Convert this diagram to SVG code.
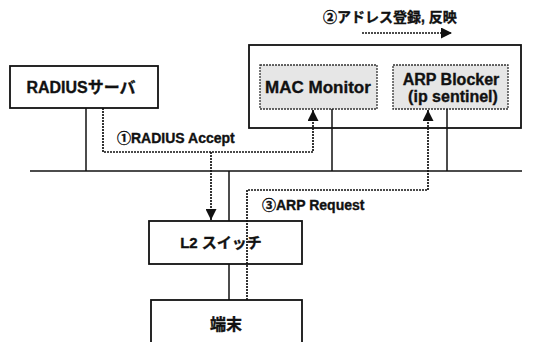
<svg xmlns="http://www.w3.org/2000/svg" width="540" height="342" viewBox="0 0 540 342">
<defs>
<style>
text{font-family:"Liberation Sans","Noto Sans CJK JP",sans-serif;font-weight:bold;fill:#111;stroke:#111;stroke-width:0.35}
.box{fill:#fff;stroke:#111;stroke-width:1.8}
.inner{fill:#e6e6e6;stroke:#333;stroke-width:1.3;stroke-dasharray:2 1}
.solid{fill:none;stroke:#111;stroke-width:1.5}
.dot{fill:none;stroke:#111;stroke-width:1.7;stroke-dasharray:2 1}
</style>
<marker id="ah" viewBox="0 0 10 10" refX="10" refY="5" markerWidth="12" markerHeight="11" markerUnits="userSpaceOnUse" orient="auto">
<path d="M0,0 L10,5 L0,10 Z" fill="#111"/>
</marker>
</defs>
<rect width="540" height="342" fill="#fff"/>
<g id="label2">
<text x="323" y="22" font-size="14">②アドレス登録, 反映</text>
</g>
<g id="system">
<rect class="box" x="249" y="45" width="272" height="83"/>
</g>
<g id="radius">
<rect class="box" x="10" y="66" width="148" height="42"/>
<text x="81" y="93" font-size="16" text-anchor="middle">RADIUSサーバ</text>
</g>
<g id="mac">
<rect class="inner" x="260" y="65" width="117" height="44"/>
<text x="318" y="93" font-size="17" text-anchor="middle">MAC Monitor</text>
</g>
<g id="arp">
<rect class="inner" x="393" y="65" width="115" height="44"/>
<text x="451" y="85" font-size="16" text-anchor="middle">ARP Blocker</text>
<text x="453" y="102" font-size="16" text-anchor="middle">(ip sentinel)</text>
</g>
<g id="l2">
<rect class="box" x="149" y="221" width="153" height="43"/>
<text x="221" y="248" font-size="15" text-anchor="middle">L2 スイッチ</text>
</g>
<g id="terminal">
<rect class="box" x="151" y="300" width="151" height="50"/>
<text x="226" y="330" font-size="16" text-anchor="middle">端末</text>
</g>
<g id="connectors">
<line class="solid" x1="30" y1="171" x2="522" y2="171" stroke-width="2"/>
<line class="solid" x1="86" y1="108" x2="86" y2="171"/>
<line class="solid" x1="332" y1="109" x2="332" y2="171"/>
<line class="solid" x1="447" y1="109" x2="447" y2="171"/>
<line class="solid" x1="229" y1="171" x2="229" y2="221"/>
<line class="solid" x1="229" y1="264" x2="229" y2="300"/>
<path class="dot" d="M103,108 V152 H313 V110" marker-end="url(#ah)"/>
<path class="dot" d="M211,152 V220" marker-end="url(#ah)"/>
<path class="dot" d="M247,300 V190 H428 V110" marker-end="url(#ah)"/>
<path class="dot" d="M362,33 H452" marker-end="url(#ah)"/>
</g>
<g id="labels">
<text x="117" y="143" font-size="14">①RADIUS Accept</text>
<text x="262" y="210" font-size="14">③ARP Request</text>
</g>
</svg>
